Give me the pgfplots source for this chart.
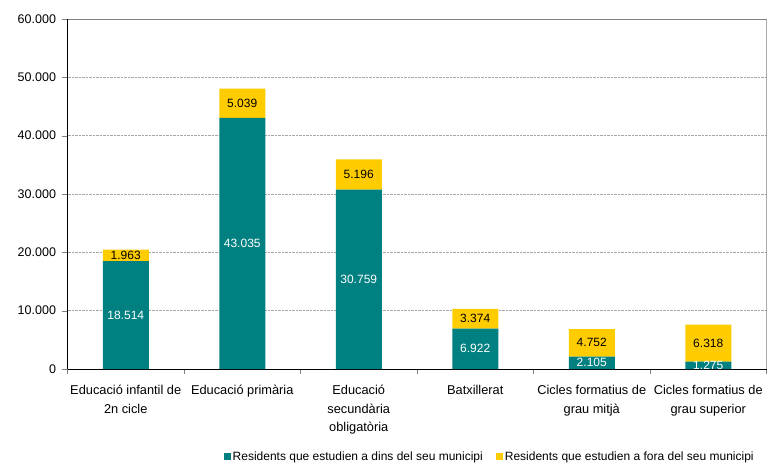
\documentclass[border=0pt]{standalone}
\usepackage{pgfplots}
\pgfplotsset{compat=1.18}
\usepackage{fontspec}
\setmainfont{Liberation Sans}
\definecolor{cteal}{RGB}{0,128,128}
\definecolor{cyellow}{RGB}{255,204,0}
\pgfplotsset{
  base/.style={
    scale only axis, width=699pt, height=350pt,
    at={(0,0)}, anchor=south west,
    xmin=-0.5, xmax=5.5, ymin=0, ymax=60000,
    /pgf/number format/.cd, fixed, 1000 sep={.}, assume math mode=true,
    /pgfplots/.cd,
  }
}
\begin{document}
\begin{tikzpicture}
\useasboundingbox (-67.5pt,-95pt) rectangle (707.5pt,369pt);
\begin{axis}[base,
    ybar stacked, bar width=46pt,
    axis x line*=bottom, axis y line*=left,
    tick align=outside, major tick length=5pt,
    ytick={0,10000,...,60000}, scaled y ticks=false,
    yticklabel style={font=\fontsize{12.5}{14}\selectfont, xshift=-3pt},
    ymajorgrids, grid style={densely dotted, gray!70},
    xtick={-0.5,0.5,...,5.5}, xticklabels={},
    extra x ticks={0,1,2,3,4,5},
    extra x tick labels={Educació infantil de\\2n cicle, Educació primària, Educació\\secundària\\obligatòria, Batxillerat, Cicles formatius de\\grau mitjà, Cicles formatius de\\grau superior},
    extra x tick style={major tick length=0pt, grid=none,
      xticklabel style={align=center, font=\fontsize{12.8}{18.5}\selectfont, yshift=-13pt}},
    legend style={at={(0.604,-0.251)}, anchor=center, draw=none,
      font=\fontsize{12}{14}\selectfont, legend columns=2,
      /tikz/every even column/.append style={column sep=11pt}},
    legend image code/.code={\fill[#1] (0pt,-3.5pt) rectangle (7pt,3.5pt);},
  ]
  \addplot[fill=cteal, draw=none] coordinates {
    (0,18514) (1,43035) (2,30759) (3,6922) (4,2105) (5,1275)};
  \addplot[fill=cyellow, draw=none] coordinates {
    (0,1963) (1,5039) (2,5196) (3,3374) (4,4752) (5,6318)};
  \legend{Residents que estudien a dins del seu municipi, Residents que estudien a fora del seu municipi}
  \draw[gray] (rel axis cs:0,1) -- (rel axis cs:1,1) -- (rel axis cs:1,0);
\end{axis}
\begin{axis}[base, hide axis, no markers,
    nodes near coords, point meta=explicit,
    every node near coord/.append style={anchor=center, font=\fontsize{12}{14}\selectfont},
  ]
  % label positions: middle of each segment
  \addplot[draw=none, nodes near coords style={text=white}] coordinates {
    (0,9257)[18514] (1,21517.5)[43035] (2,15379.5)[30759]
    (3,3461)[6922] (4,1052.5)[2105] (5,637.5)[1275]};
  \addplot[draw=none, nodes near coords style={text=black}] coordinates {
    (0,19495.5)[1963] (1,45554.5)[5039] (2,33357)[5196]
    (3,8609)[3374] (4,4481)[4752] (5,4434)[6318]};
\end{axis}
\end{tikzpicture}
\end{document}
